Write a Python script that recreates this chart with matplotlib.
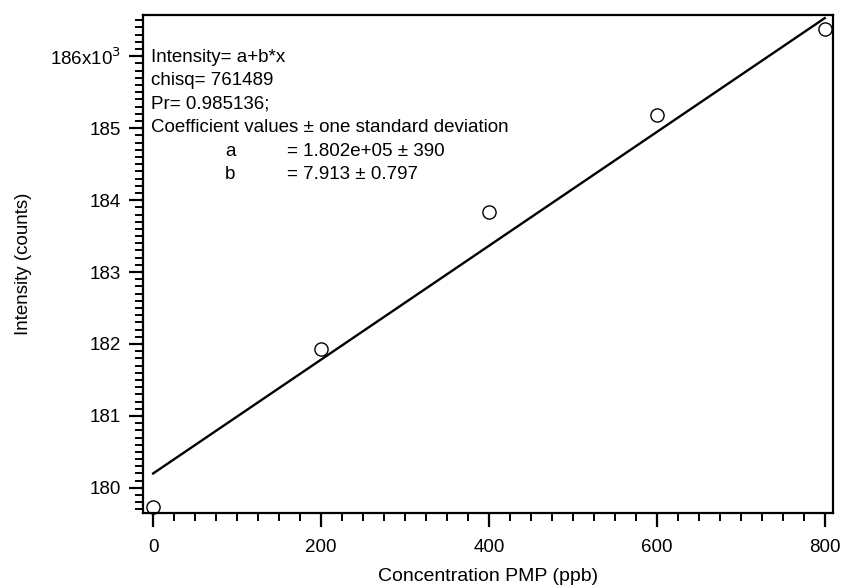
import matplotlib
matplotlib.use("Agg")
import matplotlib.pyplot as plt
import numpy as np
from matplotlib.ticker import MultipleLocator, FuncFormatter

plt.rcParams['font.family'] = ['Liberation Sans', 'DejaVu Sans']

# data
concentration = [0, 200, 400, 600, 800]  # ppb
intensity = [179740, 181930, 183840, 185180, 186380]  # counts

# fit coefficients from the annotation
fit_a = 1.802e5
fit_b = 7.913

fit_text = [
    "Intensity= a+b*x",
    "chisq= 761489",
    "Pr= 0.985136;",
    "Coefficient values \u00b1 one standard deviation",
]
coef_names = ["a", "b"]
coef_values = ["= 1.802e+05 \u00b1 390", "= 7.913 \u00b1 0.797"]

fig = plt.figure(figsize=(8.42, 5.87), dpi=100)
ax = fig.add_axes([0.170, 0.126, 0.819, 0.848])

# fitted line
xfit = np.array([concentration[0], concentration[-1]])
ax.plot(xfit, (fit_a + fit_b * xfit) / 1000, color='black', lw=1.7)

# data points
ax.plot(concentration, np.array(intensity) / 1000, 'o', mfc='white', mec='black',
        mew=1.0, ms=9.5, clip_on=False)

ax.set_xlim(-11.9, 809.5)
ax.set_ylim(179.65, 186.57)

ax.xaxis.set_major_locator(MultipleLocator(200))
ax.xaxis.set_minor_locator(MultipleLocator(25))
ax.yaxis.set_major_locator(MultipleLocator(1))
ax.yaxis.set_minor_locator(MultipleLocator(0.1))


def ylab(v, pos):
    if abs(v - 186) < 1e-6:
        return r"186x10$^{3}$"
    return f"{v:.0f}"


ax.yaxis.set_major_formatter(FuncFormatter(ylab))

ax.tick_params(which='major', direction='out', length=10, width=1.6, labelsize=13.5)
ax.tick_params(axis='x', which='major', pad=9)
ax.tick_params(axis='y', which='major', pad=6)
ax.tick_params(which='minor', direction='out', length=6, width=1.4)
for sp in ax.spines.values():
    sp.set_linewidth(1.6)

ax.set_xlabel("Concentration PMP (ppb)", fontsize=14, labelpad=8)
ax.set_ylabel("Intensity (counts)", fontsize=13.5, labelpad=13)

# fit annotation
y0 = 57
dy = 23.5
for i, line in enumerate(fit_text):
    fig.text(151 / 842, 1 - (y0 + i * dy) / 587, line, fontsize=13.5, va='center', ha='left')
for i, (nm, val) in enumerate(zip(coef_names, coef_values)):
    yy = 1 - (y0 + (4 + i) * dy) / 587
    fig.text(225 / 842, yy, nm, fontsize=13.5, va='center', ha='left')
    fig.text(287 / 842, yy, val, fontsize=13.5, va='center', ha='left')

fig.savefig("out.png", dpi=100)
